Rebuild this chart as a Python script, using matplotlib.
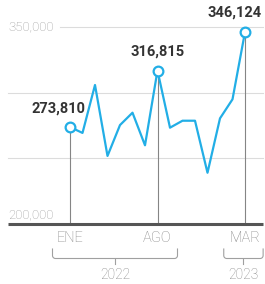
import numpy as np
import matplotlib
matplotlib.use('Agg')
import matplotlib.pyplot as plt

# Monthly values, Jan 2022 .. Mar 2023
values = [273810, 269300, 305800, 251800, 275300, 284700, 259900, 316815,
          273300, 278600, 278600, 239000, 280400, 294900, 346124]
months = np.arange(len(values))
highlight = [0, 7, 14]
tick_labels = ['ENE', 'AGO', 'MAR']
year_labels = ['2022', '2023']
year_spans = [(-1.4, 8.6), (12.3, 15.45)]
grid_vals = [350000, 300000, 250000]

BLUE = '#22aee6'
GRAY = '#858585'
plt.rcParams['font.family'] = ['Roboto', 'DejaVu Sans']

fig = plt.figure(figsize=(2.65, 2.84), dpi=100)
ax = fig.add_axes([0, 0, 1, 1])
ax.set_axis_off()

px_per_month = 12.5
px_per_unit = 65.7 / 50000
ax.set_xlim(-70 / px_per_month, 14 + 20 / px_per_month)
ax.set_ylim(200000 - 60 / px_per_unit, 200000 + 224 / px_per_unit)

x0, x1 = -62 / px_per_month, 14 + 18 / px_per_month

# grid
for g in grid_vals:
    start = x0 + 52 / px_per_month if g == 350000 else x0
    ax.plot([start, x1], [g, g], color='#dcdcdc', lw=0.8, zorder=1)
ax.text(x0, 350000, '350,000', color='#999999', fontsize=9.5, fontweight='light',
        ha='left', va='center')
ax.text(x0, 201800, '200,000', color='#999999', fontsize=9.5, fontweight='light',
        ha='left', va='bottom')

# vertical guides
for i in highlight:
    ax.plot([i, i], [200000, values[i]], color=GRAY, lw=0.8, zorder=2)

# baseline
ax.plot([x0, x1], [200000, 200000], color='#555555', lw=2.2, zorder=3,
        solid_capstyle='butt')

# line
ax.plot(months, values, color=BLUE, lw=1.6, zorder=4)
ax.plot(months[highlight], [values[i] for i in highlight], 'o', ms=7,
        mfc='white', mec=BLUE, mew=1.6, zorder=5)

# value labels
offsets = [(-12 / px_per_month, 11), (0, 12), (-10 / px_per_month, 12)]
for i, (dx, dy) in zip(highlight, offsets):
    ax.text(i + dx, values[i] + dy / px_per_unit, f'{values[i]:,}',
            fontsize=10.5, fontweight='bold', color='#333333',
            ha='center', va='bottom')

# month ticks
for i, lab in zip(highlight, tick_labels):
    ax.text(i, 200000 - 14 / px_per_unit, lab, color=GRAY, fontsize=10.5,
            fontweight='light', ha='center', va='center')

# year brackets
ytop = 200000 - 25 / px_per_unit
ymid = 200000 - 34.5 / px_per_unit
ybot = 200000 - 40 / px_per_unit
r = 3 / px_per_month
ry = 3 / px_per_unit
for (a, b), lab in zip(year_spans, year_labels):
    t = np.linspace(0, np.pi / 2, 10)
    xs = np.concatenate([[a], a + r - r * np.cos(t), [b - r], b - r + r * np.sin(t), [b]])
    ys = np.concatenate([[ytop], ymid + ry - ry * np.sin(t), [ymid], ymid + ry - ry * np.cos(t), [ytop]])
    ax.plot(xs, ys, color='#a0a0a0', lw=0.8)
    c = (a + b) / 2
    ax.plot([c, c], [ymid, ybot], color='#a0a0a0', lw=0.8)
    ax.text(c, 200000 - 51 / px_per_unit, lab, color=GRAY, fontsize=10,
            fontweight='light', ha='center', va='center')

fig.savefig('out.png', dpi=100)
